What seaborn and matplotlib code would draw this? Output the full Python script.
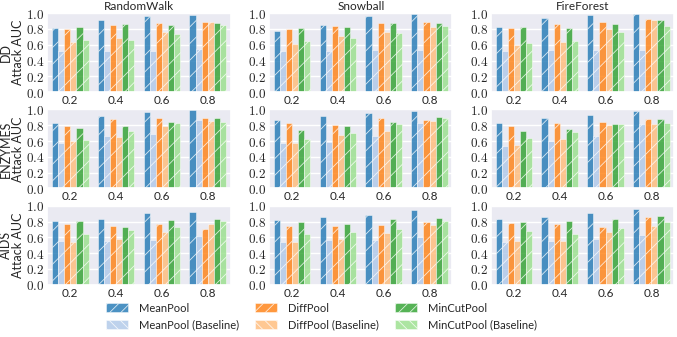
import pandas as pd
import seaborn as sns
import matplotlib.pyplot as plt
from matplotlib.patches import Patch
from matplotlib.ticker import FuncFormatter

# categories
datasets = ['DD', 'ENZYMES', 'AIDS']
samplers = ['RandomWalk', 'Snowball', 'FireForest']
ratios = ['0.2', '0.4', '0.6', '0.8']
models = ['MeanPool', 'MeanPool (Baseline)', 'DiffPool', 'DiffPool (Baseline)',
          'MinCutPool', 'MinCutPool (Baseline)']
colors = ['#1f77b4', '#aec7e8', '#ff7f0e', '#ffbb78', '#2ca02c', '#98df8a']

# attack AUC per panel, one row per model (order as in `models`), one column per ratio
dd_randomwalk = [[0.815, 0.916, 0.960, 0.980],
                 [0.525, 0.525, 0.525, 0.540],
                 [0.800, 0.853, 0.874, 0.886],
                 [0.630, 0.690, 0.756, 0.886],
                 [0.830, 0.860, 0.850, 0.878],
                 [0.660, 0.660, 0.740, 0.850]]
dd_snowball = [[0.777, 0.853, 0.966, 0.990],
               [0.517, 0.517, 0.534, 0.538],
               [0.800, 0.840, 0.874, 0.882],
               [0.613, 0.714, 0.756, 0.820],
               [0.815, 0.828, 0.870, 0.878],
               [0.643, 0.690, 0.748, 0.832]]
dd_fireforest = [[0.824, 0.940, 0.975, 0.987],
                 [0.517, 0.538, 0.530, 0.530],
                 [0.810, 0.857, 0.890, 0.920],
                 [0.597, 0.630, 0.794, 0.908],
                 [0.824, 0.807, 0.866, 0.916],
                 [0.622, 0.647, 0.756, 0.836]]
enzymes_randomwalk = [[0.826, 0.915, 0.962, 0.996],
                      [0.576, 0.661, 0.686, 0.864],
                      [0.797, 0.877, 0.898, 0.894],
                      [0.606, 0.657, 0.788, 0.856],
                      [0.771, 0.797, 0.839, 0.894],
                      [0.610, 0.733, 0.835, 0.847]]
enzymes_snowball = [[0.873, 0.915, 0.950, 0.987],
                    [0.572, 0.589, 0.670, 0.830],
                    [0.826, 0.800, 0.898, 0.873],
                    [0.572, 0.674, 0.729, 0.860],
                    [0.746, 0.788, 0.847, 0.907],
                    [0.627, 0.700, 0.814, 0.898]]
enzymes_fireforest = [[0.830, 0.894, 0.932, 0.987],
                      [0.542, 0.597, 0.661, 0.818],
                      [0.788, 0.835, 0.847, 0.881],
                      [0.555, 0.631, 0.800, 0.822],
                      [0.729, 0.758, 0.822, 0.877],
                      [0.644, 0.720, 0.818, 0.826]]
aids_randomwalk = [[0.804, 0.837, 0.904, 0.917],
                   [0.554, 0.554, 0.567, 0.617],
                   [0.775, 0.742, 0.771, 0.712],
                   [0.537, 0.579, 0.662, 0.767],
                   [0.808, 0.729, 0.817, 0.837],
                   [0.642, 0.696, 0.729, 0.804]]
aids_snowball = [[0.820, 0.854, 0.887, 0.942],
                 [0.542, 0.562, 0.567, 0.608],
                 [0.742, 0.742, 0.758, 0.792],
                 [0.546, 0.583, 0.654, 0.762],
                 [0.796, 0.767, 0.833, 0.850],
                 [0.646, 0.662, 0.708, 0.804]]
aids_fireforest = [[0.837, 0.862, 0.912, 0.954],
                   [0.546, 0.558, 0.583, 0.625],
                   [0.779, 0.767, 0.733, 0.862],
                   [0.554, 0.554, 0.662, 0.742],
                   [0.796, 0.812, 0.829, 0.871],
                   [0.683, 0.646, 0.725, 0.792]]

panels = [[dd_randomwalk, dd_snowball, dd_fireforest],
          [enzymes_randomwalk, enzymes_snowball, enzymes_fireforest],
          [aids_randomwalk, aids_snowball, aids_fireforest]]

sns.set_theme(style='darkgrid')
plt.rcParams['font.family'] = ['Lato', 'DejaVu Sans']
plt.rcParams['mathtext.fontset'] = 'cm'
plt.rcParams['hatch.color'] = 'white'
plt.rcParams['hatch.linewidth'] = 0.6

fig, axes = plt.subplots(3, 3, figsize=(6.77, 3.37), dpi=100)
fig.subplots_adjust(left=0.07, right=0.996, top=0.961, bottom=0.155,
                    wspace=0.21, hspace=0.22)

for i, ds in enumerate(datasets):
    for j, sp in enumerate(samplers):
        ax = axes[i, j]
        vals = panels[i][j]
        rows = []
        for m, model in enumerate(models):
            for k, r in enumerate(ratios):
                rows.append({'ratio': r, 'model': model, 'auc': vals[m][k]})
        df = pd.DataFrame(rows)
        sns.barplot(data=df, x='ratio', y='auc', hue='model', hue_order=models,
                    order=ratios, palette=colors, saturation=1, alpha=0.8,
                    ax=ax, legend=False, edgecolor='white', linewidth=0.4)
        # hatch all bars
        for p in ax.patches:
            p.set_hatch('//')
        ax.set_ylim(0, 1.0)
        ax.set_yticks([0, 0.2, 0.4, 0.6, 0.8, 1.0])
        ax.yaxis.set_major_formatter(FuncFormatter(lambda v, pos: f'${v:.1f}$'))
        ax.tick_params(axis='y', labelsize=9.5, pad=2, length=0)
        ax.tick_params(axis='x', labelsize=8.5, pad=2, length=0)
        ax.set_xlabel('')
        if j == 0:
            ax.set_ylabel(f'{ds}\nAttack AUC', fontsize=9, linespacing=1.0)
            ax.yaxis.set_label_coords(-0.13, 0.5)
        else:
            ax.set_ylabel('')
        if i == 0:
            ax.set_title(sp, fontsize=8.5, pad=2)

handles = []
for m, model in enumerate(models):
    hatch = '\\\\\\' if 'Baseline' in model else '///'
    handles.append(Patch(facecolor=colors[m], edgecolor='white', hatch=hatch,
                         linewidth=0.4, alpha=0.8))
fig.legend(handles, models, ncol=3, loc='upper center',
           bbox_to_anchor=(0.475, 0.125), frameon=False, fontsize=8,
           handlelength=2.0, handleheight=0.9, handletextpad=1.0,
           columnspacing=1.4, labelspacing=0.5, borderpad=0.2)

fig.savefig('out.png', dpi=100)
